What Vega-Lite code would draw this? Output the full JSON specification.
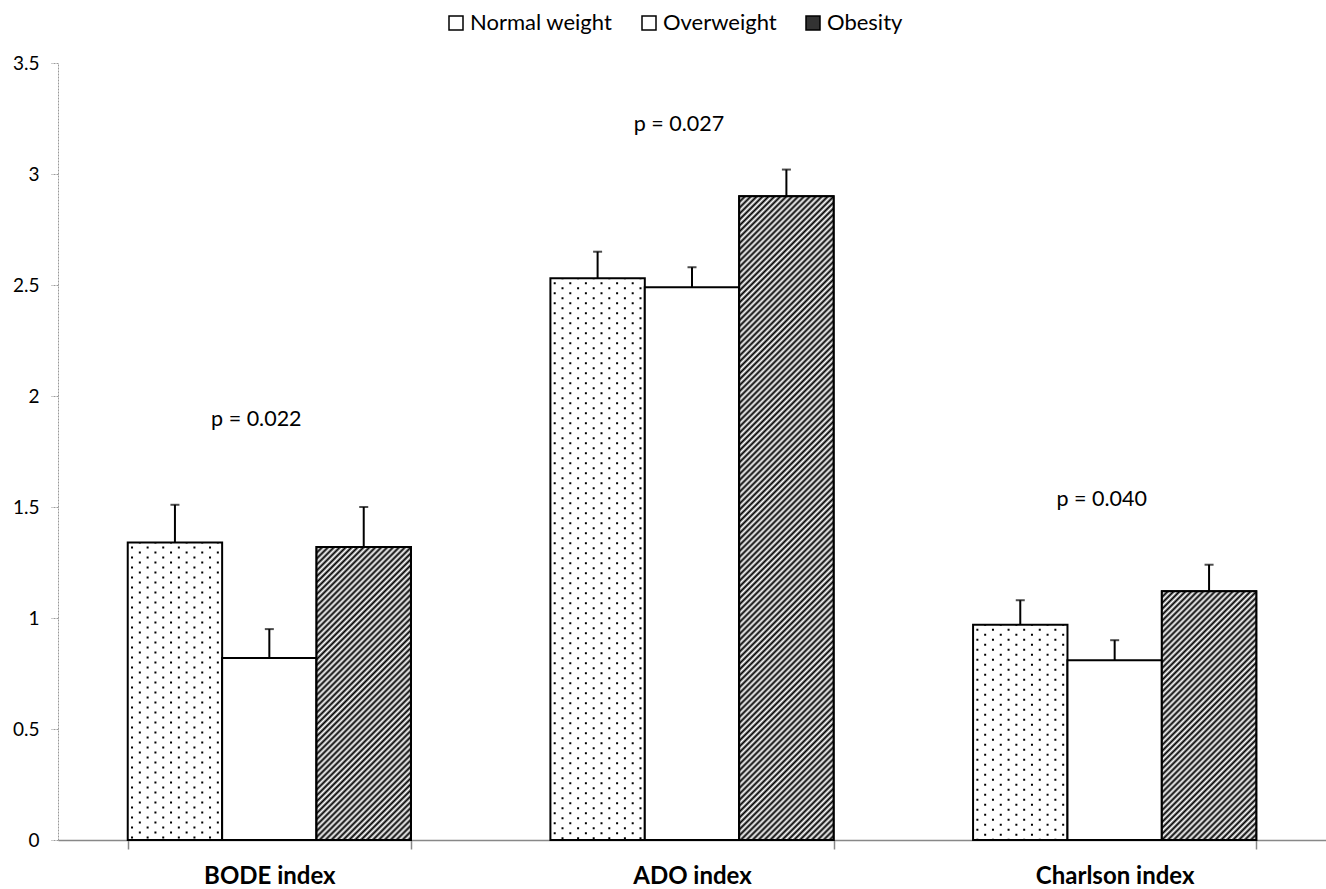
{
"$schema":"https://vega.github.io/schema/vega-lite/v6.json",
"width":1268,"height":777,
"autosize":{"type":"none"},
"padding":{"left":58,"top":63,"right":0,"bottom":49},
"background":"white",
"config":{"font":"Lato","view":{"stroke":null}},
"datasets":{
"bars":[
{"group":"BODE index","cat":"Normal weight","value":1.34,"upper":1.51},
{"group":"BODE index","cat":"Overweight","value":0.82,"upper":0.95},
{"group":"BODE index","cat":"Obesity","value":1.32,"upper":1.50},
{"group":"ADO index","cat":"Normal weight","value":2.53,"upper":2.65},
{"group":"ADO index","cat":"Overweight","value":2.49,"upper":2.58},
{"group":"ADO index","cat":"Obesity","value":2.90,"upper":3.02},
{"group":"Charlson index","cat":"Normal weight","value":0.97,"upper":1.08},
{"group":"Charlson index","cat":"Overweight","value":0.81,"upper":0.90},
{"group":"Charlson index","cat":"Obesity","value":1.12,"upper":1.24}
],
"plabels":[
{"group":"BODE index","label":"p = 0.022","ypos":1.89},
{"group":"ADO index","label":"p = 0.027","ypos":3.22},
{"group":"Charlson index","label":"p = 0.040","ypos":1.53}
]
},
"data":{"name":"bars"},
"encoding":{
"x":{"field":"group","type":"nominal","sort":null,
 "scale":{"domain":["BODE index","ADO index","Charlson index"],"paddingInner":0.33,"paddingOuter":0.165},
 "axis":{"title":null,"labelAngle":0,"labelFontSize":24,"labelFontWeight":"bold","labelColor":"#000","labelPadding":15,"tickBand":"extent","tickSize":9,"tickColor":"#888","tickWidth":1.5,"domainColor":"#888","domainWidth":1.5,"grid":false}},
"y":{"field":"value","type":"quantitative","stack":null,
 "scale":{"domain":[0,3.5],"nice":false,"zero":true},
 "axis":{"title":null,"values":[0,0.5,1,1.5,2,2.5,3,3.5],"format":"~g","labelFontSize":19,"labelColor":"#000","tickSize":7,"tickColor":"#999","tickDash":[2,1],"domainColor":"#999","domainDash":[2,1],"labelPadding":12,"grid":false}}
},
"layer":[
{"mark":{"type":"bar","stroke":"#000","strokeWidth":2},
 "encoding":{
  "xOffset":{"field":"cat","type":"nominal","scale":{"domain":["Normal weight","Overweight","Obesity"]}},
  "fill":{"field":"cat","type":"nominal","scale":{"domain":["Normal weight","Overweight","Obesity"],"range":["#ffffff","#ffffff","#333333"]},
   "legend":{"orient":"none","legendX":387,"legendY":-51,"direction":"horizontal","title":null,"symbolType":"square","symbolSize":196,"symbolStrokeColor":"#000","symbolStrokeWidth":1.5,"labelFontSize":22,"labelColor":"#000","labelOffset":3,"columnPadding":25,"padding":0}}
 }},
{"transform":[{"filter":"datum.cat == 'Obesity' && datum.group == 'BODE index'"}],
 "mark":{"type":"bar","stroke":"#000","strokeWidth":2,"fill":{"gradient":"linear","x1":0,"y1":0,"x2":0.73701,"y2":2.28786,"stops":[
{"offset":0,"color":"#000"},{"offset":0.004,"color":"#fff"},{"offset":0.008,"color":"#000"},{"offset":0.012,"color":"#fff"},{"offset":0.016,"color":"#000"},{"offset":0.02,"color":"#fff"},{"offset":0.024,"color":"#000"},{"offset":0.028,"color":"#fff"},{"offset":0.032,"color":"#000"},{"offset":0.036,"color":"#fff"},{"offset":0.04,"color":"#000"},{"offset":0.044,"color":"#fff"},{"offset":0.048,"color":"#000"},{"offset":0.052,"color":"#fff"},{"offset":0.056,"color":"#000"},{"offset":0.06,"color":"#fff"},{"offset":0.064,"color":"#000"},{"offset":0.068,"color":"#fff"},{"offset":0.072,"color":"#000"},{"offset":0.076,"color":"#fff"},{"offset":0.08,"color":"#000"},{"offset":0.084,"color":"#fff"},{"offset":0.088,"color":"#000"},{"offset":0.092,"color":"#fff"},{"offset":0.096,"color":"#000"},{"offset":0.1,"color":"#fff"},{"offset":0.104,"color":"#000"},{"offset":0.108,"color":"#fff"},{"offset":0.112,"color":"#000"},{"offset":0.116,"color":"#fff"},{"offset":0.12,"color":"#000"},{"offset":0.124,"color":"#fff"},{"offset":0.128,"color":"#000"},{"offset":0.132,"color":"#fff"},{"offset":0.136,"color":"#000"},{"offset":0.14,"color":"#fff"},{"offset":0.144,"color":"#000"},{"offset":0.148,"color":"#fff"},{"offset":0.152,"color":"#000"},{"offset":0.156,"color":"#fff"},{"offset":0.16,"color":"#000"},{"offset":0.164,"color":"#fff"},{"offset":0.168,"color":"#000"},{"offset":0.172,"color":"#fff"},{"offset":0.176,"color":"#000"},{"offset":0.18,"color":"#fff"},{"offset":0.184,"color":"#000"},{"offset":0.188,"color":"#fff"},{"offset":0.192,"color":"#000"},{"offset":0.196,"color":"#fff"},
{"offset":0.2,"color":"#000"},{"offset":0.204,"color":"#fff"},{"offset":0.208,"color":"#000"},{"offset":0.212,"color":"#fff"},{"offset":0.216,"color":"#000"},{"offset":0.22,"color":"#fff"},{"offset":0.224,"color":"#000"},{"offset":0.228,"color":"#fff"},{"offset":0.232,"color":"#000"},{"offset":0.236,"color":"#fff"},{"offset":0.24,"color":"#000"},{"offset":0.244,"color":"#fff"},{"offset":0.248,"color":"#000"},{"offset":0.252,"color":"#fff"},{"offset":0.256,"color":"#000"},{"offset":0.26,"color":"#fff"},{"offset":0.264,"color":"#000"},{"offset":0.268,"color":"#fff"},{"offset":0.272,"color":"#000"},{"offset":0.276,"color":"#fff"},{"offset":0.28,"color":"#000"},{"offset":0.284,"color":"#fff"},{"offset":0.288,"color":"#000"},{"offset":0.292,"color":"#fff"},{"offset":0.296,"color":"#000"},{"offset":0.3,"color":"#fff"},{"offset":0.304,"color":"#000"},{"offset":0.308,"color":"#fff"},{"offset":0.312,"color":"#000"},{"offset":0.316,"color":"#fff"},{"offset":0.32,"color":"#000"},{"offset":0.324,"color":"#fff"},{"offset":0.328,"color":"#000"},{"offset":0.332,"color":"#fff"},{"offset":0.336,"color":"#000"},{"offset":0.34,"color":"#fff"},{"offset":0.344,"color":"#000"},{"offset":0.348,"color":"#fff"},{"offset":0.352,"color":"#000"},{"offset":0.356,"color":"#fff"},{"offset":0.36,"color":"#000"},{"offset":0.364,"color":"#fff"},{"offset":0.368,"color":"#000"},{"offset":0.372,"color":"#fff"},{"offset":0.376,"color":"#000"},{"offset":0.38,"color":"#fff"},{"offset":0.384,"color":"#000"},{"offset":0.388,"color":"#fff"},{"offset":0.392,"color":"#000"},{"offset":0.396,"color":"#fff"},
{"offset":0.4,"color":"#000"},{"offset":0.404,"color":"#fff"},{"offset":0.408,"color":"#000"},{"offset":0.412,"color":"#fff"},{"offset":0.416,"color":"#000"},{"offset":0.42,"color":"#fff"},{"offset":0.424,"color":"#000"},{"offset":0.428,"color":"#fff"},{"offset":0.432,"color":"#000"},{"offset":0.436,"color":"#fff"},{"offset":0.44,"color":"#000"},{"offset":0.444,"color":"#fff"},{"offset":0.448,"color":"#000"},{"offset":0.452,"color":"#fff"},{"offset":0.456,"color":"#000"},{"offset":0.46,"color":"#fff"},{"offset":0.464,"color":"#000"},{"offset":0.468,"color":"#fff"},{"offset":0.472,"color":"#000"},{"offset":0.476,"color":"#fff"},{"offset":0.48,"color":"#000"},{"offset":0.484,"color":"#fff"},{"offset":0.488,"color":"#000"},{"offset":0.492,"color":"#fff"},{"offset":0.496,"color":"#000"},{"offset":0.5,"color":"#fff"},{"offset":0.504,"color":"#000"},{"offset":0.508,"color":"#fff"},{"offset":0.512,"color":"#000"},{"offset":0.516,"color":"#fff"},{"offset":0.52,"color":"#000"},{"offset":0.524,"color":"#fff"},{"offset":0.528,"color":"#000"},{"offset":0.532,"color":"#fff"}
]}},
 "encoding":{"xOffset":{"field":"cat","type":"nominal","scale":{"domain":["Normal weight","Overweight","Obesity"]}}}},
{"transform":[{"filter":"datum.cat == 'Obesity' && datum.group == 'ADO index'"}],
 "mark":{"type":"bar","stroke":"#000","strokeWidth":2,"fill":{"gradient":"linear","x1":0,"y1":0,"x2":0.16499,"y2":1.12522,"stops":[
{"offset":0,"color":"#000"},{"offset":0.004,"color":"#fff"},{"offset":0.008,"color":"#000"},{"offset":0.012,"color":"#fff"},{"offset":0.016,"color":"#000"},{"offset":0.02,"color":"#fff"},{"offset":0.024,"color":"#000"},{"offset":0.028,"color":"#fff"},{"offset":0.032,"color":"#000"},{"offset":0.036,"color":"#fff"},{"offset":0.04,"color":"#000"},{"offset":0.044,"color":"#fff"},{"offset":0.048,"color":"#000"},{"offset":0.052,"color":"#fff"},{"offset":0.056,"color":"#000"},{"offset":0.06,"color":"#fff"},{"offset":0.064,"color":"#000"},{"offset":0.068,"color":"#fff"},{"offset":0.072,"color":"#000"},{"offset":0.076,"color":"#fff"},{"offset":0.08,"color":"#000"},{"offset":0.084,"color":"#fff"},{"offset":0.088,"color":"#000"},{"offset":0.092,"color":"#fff"},{"offset":0.096,"color":"#000"},{"offset":0.1,"color":"#fff"},{"offset":0.104,"color":"#000"},{"offset":0.108,"color":"#fff"},{"offset":0.112,"color":"#000"},{"offset":0.116,"color":"#fff"},{"offset":0.12,"color":"#000"},{"offset":0.124,"color":"#fff"},{"offset":0.128,"color":"#000"},{"offset":0.132,"color":"#fff"},{"offset":0.136,"color":"#000"},{"offset":0.14,"color":"#fff"},{"offset":0.144,"color":"#000"},{"offset":0.148,"color":"#fff"},{"offset":0.152,"color":"#000"},{"offset":0.156,"color":"#fff"},{"offset":0.16,"color":"#000"},{"offset":0.164,"color":"#fff"},{"offset":0.168,"color":"#000"},{"offset":0.172,"color":"#fff"},{"offset":0.176,"color":"#000"},{"offset":0.18,"color":"#fff"},{"offset":0.184,"color":"#000"},{"offset":0.188,"color":"#fff"},{"offset":0.192,"color":"#000"},{"offset":0.196,"color":"#fff"},
{"offset":0.2,"color":"#000"},{"offset":0.204,"color":"#fff"},{"offset":0.208,"color":"#000"},{"offset":0.212,"color":"#fff"},{"offset":0.216,"color":"#000"},{"offset":0.22,"color":"#fff"},{"offset":0.224,"color":"#000"},{"offset":0.228,"color":"#fff"},{"offset":0.232,"color":"#000"},{"offset":0.236,"color":"#fff"},{"offset":0.24,"color":"#000"},{"offset":0.244,"color":"#fff"},{"offset":0.248,"color":"#000"},{"offset":0.252,"color":"#fff"},{"offset":0.256,"color":"#000"},{"offset":0.26,"color":"#fff"},{"offset":0.264,"color":"#000"},{"offset":0.268,"color":"#fff"},{"offset":0.272,"color":"#000"},{"offset":0.276,"color":"#fff"},{"offset":0.28,"color":"#000"},{"offset":0.284,"color":"#fff"},{"offset":0.288,"color":"#000"},{"offset":0.292,"color":"#fff"},{"offset":0.296,"color":"#000"},{"offset":0.3,"color":"#fff"},{"offset":0.304,"color":"#000"},{"offset":0.308,"color":"#fff"},{"offset":0.312,"color":"#000"},{"offset":0.316,"color":"#fff"},{"offset":0.32,"color":"#000"},{"offset":0.324,"color":"#fff"},{"offset":0.328,"color":"#000"},{"offset":0.332,"color":"#fff"},{"offset":0.336,"color":"#000"},{"offset":0.34,"color":"#fff"},{"offset":0.344,"color":"#000"},{"offset":0.348,"color":"#fff"},{"offset":0.352,"color":"#000"},{"offset":0.356,"color":"#fff"},{"offset":0.36,"color":"#000"},{"offset":0.364,"color":"#fff"},{"offset":0.368,"color":"#000"},{"offset":0.372,"color":"#fff"},{"offset":0.376,"color":"#000"},{"offset":0.38,"color":"#fff"},{"offset":0.384,"color":"#000"},{"offset":0.388,"color":"#fff"},{"offset":0.392,"color":"#000"},{"offset":0.396,"color":"#fff"},
{"offset":0.4,"color":"#000"},{"offset":0.404,"color":"#fff"},{"offset":0.408,"color":"#000"},{"offset":0.412,"color":"#fff"},{"offset":0.416,"color":"#000"},{"offset":0.42,"color":"#fff"},{"offset":0.424,"color":"#000"},{"offset":0.428,"color":"#fff"},{"offset":0.432,"color":"#000"},{"offset":0.436,"color":"#fff"},{"offset":0.44,"color":"#000"},{"offset":0.444,"color":"#fff"},{"offset":0.448,"color":"#000"},{"offset":0.452,"color":"#fff"},{"offset":0.456,"color":"#000"},{"offset":0.46,"color":"#fff"},{"offset":0.464,"color":"#000"},{"offset":0.468,"color":"#fff"},{"offset":0.472,"color":"#000"},{"offset":0.476,"color":"#fff"},{"offset":0.48,"color":"#000"},{"offset":0.484,"color":"#fff"},{"offset":0.488,"color":"#000"},{"offset":0.492,"color":"#fff"},{"offset":0.496,"color":"#000"},{"offset":0.5,"color":"#fff"},{"offset":0.504,"color":"#000"},{"offset":0.508,"color":"#fff"},{"offset":0.512,"color":"#000"},{"offset":0.516,"color":"#fff"},{"offset":0.52,"color":"#000"},{"offset":0.524,"color":"#fff"},{"offset":0.528,"color":"#000"},{"offset":0.532,"color":"#fff"},{"offset":0.536,"color":"#000"},{"offset":0.54,"color":"#fff"},{"offset":0.544,"color":"#000"},{"offset":0.548,"color":"#fff"},{"offset":0.552,"color":"#000"},{"offset":0.556,"color":"#fff"},{"offset":0.56,"color":"#000"},{"offset":0.564,"color":"#fff"},{"offset":0.568,"color":"#000"},{"offset":0.572,"color":"#fff"},{"offset":0.576,"color":"#000"},{"offset":0.58,"color":"#fff"},{"offset":0.584,"color":"#000"},{"offset":0.588,"color":"#fff"},{"offset":0.592,"color":"#000"},{"offset":0.596,"color":"#fff"},
{"offset":0.6,"color":"#000"},{"offset":0.604,"color":"#fff"},{"offset":0.608,"color":"#000"},{"offset":0.612,"color":"#fff"},{"offset":0.616,"color":"#000"},{"offset":0.62,"color":"#fff"},{"offset":0.624,"color":"#000"},{"offset":0.628,"color":"#fff"},{"offset":0.632,"color":"#000"},{"offset":0.636,"color":"#fff"},{"offset":0.64,"color":"#000"},{"offset":0.644,"color":"#fff"},{"offset":0.648,"color":"#000"},{"offset":0.652,"color":"#fff"},{"offset":0.656,"color":"#000"},{"offset":0.66,"color":"#fff"},{"offset":0.664,"color":"#000"},{"offset":0.668,"color":"#fff"},{"offset":0.672,"color":"#000"},{"offset":0.676,"color":"#fff"},{"offset":0.68,"color":"#000"},{"offset":0.684,"color":"#fff"},{"offset":0.688,"color":"#000"},{"offset":0.692,"color":"#fff"},{"offset":0.696,"color":"#000"},{"offset":0.7,"color":"#fff"},{"offset":0.704,"color":"#000"},{"offset":0.708,"color":"#fff"},{"offset":0.712,"color":"#000"},{"offset":0.716,"color":"#fff"},{"offset":0.72,"color":"#000"},{"offset":0.724,"color":"#fff"},{"offset":0.728,"color":"#000"},{"offset":0.732,"color":"#fff"},{"offset":0.736,"color":"#000"},{"offset":0.74,"color":"#fff"},{"offset":0.744,"color":"#000"},{"offset":0.748,"color":"#fff"},{"offset":0.752,"color":"#000"},{"offset":0.756,"color":"#fff"},{"offset":0.76,"color":"#000"},{"offset":0.764,"color":"#fff"},{"offset":0.768,"color":"#000"},{"offset":0.772,"color":"#fff"},{"offset":0.776,"color":"#000"},{"offset":0.78,"color":"#fff"},{"offset":0.784,"color":"#000"},{"offset":0.788,"color":"#fff"},{"offset":0.792,"color":"#000"},{"offset":0.796,"color":"#fff"},
{"offset":0.8,"color":"#000"},{"offset":0.804,"color":"#fff"},{"offset":0.808,"color":"#000"},{"offset":0.812,"color":"#fff"},{"offset":0.816,"color":"#000"},{"offset":0.82,"color":"#fff"},{"offset":0.824,"color":"#000"},{"offset":0.828,"color":"#fff"},{"offset":0.832,"color":"#000"},{"offset":0.836,"color":"#fff"},{"offset":0.84,"color":"#000"},{"offset":0.844,"color":"#fff"},{"offset":0.848,"color":"#000"},{"offset":0.852,"color":"#fff"},{"offset":0.856,"color":"#000"},{"offset":0.86,"color":"#fff"},{"offset":0.864,"color":"#000"},{"offset":0.868,"color":"#fff"},{"offset":0.872,"color":"#000"},{"offset":0.876,"color":"#fff"},{"offset":0.88,"color":"#000"},{"offset":0.884,"color":"#fff"},{"offset":0.888,"color":"#000"},{"offset":0.892,"color":"#fff"},{"offset":0.896,"color":"#000"},{"offset":0.9,"color":"#fff"},{"offset":0.904,"color":"#000"},{"offset":0.908,"color":"#fff"},{"offset":0.912,"color":"#000"},{"offset":0.916,"color":"#fff"},{"offset":0.92,"color":"#000"},{"offset":0.924,"color":"#fff"},{"offset":0.928,"color":"#000"},{"offset":0.932,"color":"#fff"},{"offset":0.936,"color":"#000"},{"offset":0.94,"color":"#fff"},{"offset":0.944,"color":"#000"},{"offset":0.948,"color":"#fff"},{"offset":0.952,"color":"#000"},{"offset":0.956,"color":"#fff"},{"offset":0.96,"color":"#000"},{"offset":0.964,"color":"#fff"},{"offset":0.968,"color":"#000"},{"offset":0.972,"color":"#fff"},{"offset":0.976,"color":"#000"},{"offset":0.98,"color":"#fff"},{"offset":0.984,"color":"#000"},{"offset":0.988,"color":"#fff"},{"offset":0.992,"color":"#000"},{"offset":0.996,"color":"#fff"},{"offset":1,"color":"#000"}
]}},
 "encoding":{"xOffset":{"field":"cat","type":"nominal","scale":{"domain":["Normal weight","Overweight","Obesity"]}}}},
{"transform":[{"filter":"datum.cat == 'Obesity' && datum.group == 'Charlson index'"}],
 "mark":{"type":"bar","stroke":"#000","strokeWidth":2,"fill":{"gradient":"linear","x1":0,"y1":0,"x2":0.9876,"y2":2.60124,"stops":[
{"offset":0,"color":"#000"},{"offset":0.004,"color":"#fff"},{"offset":0.008,"color":"#000"},{"offset":0.012,"color":"#fff"},{"offset":0.016,"color":"#000"},{"offset":0.02,"color":"#fff"},{"offset":0.024,"color":"#000"},{"offset":0.028,"color":"#fff"},{"offset":0.032,"color":"#000"},{"offset":0.036,"color":"#fff"},{"offset":0.04,"color":"#000"},{"offset":0.044,"color":"#fff"},{"offset":0.048,"color":"#000"},{"offset":0.052,"color":"#fff"},{"offset":0.056,"color":"#000"},{"offset":0.06,"color":"#fff"},{"offset":0.064,"color":"#000"},{"offset":0.068,"color":"#fff"},{"offset":0.072,"color":"#000"},{"offset":0.076,"color":"#fff"},{"offset":0.08,"color":"#000"},{"offset":0.084,"color":"#fff"},{"offset":0.088,"color":"#000"},{"offset":0.092,"color":"#fff"},{"offset":0.096,"color":"#000"},{"offset":0.1,"color":"#fff"},{"offset":0.104,"color":"#000"},{"offset":0.108,"color":"#fff"},{"offset":0.112,"color":"#000"},{"offset":0.116,"color":"#fff"},{"offset":0.12,"color":"#000"},{"offset":0.124,"color":"#fff"},{"offset":0.128,"color":"#000"},{"offset":0.132,"color":"#fff"},{"offset":0.136,"color":"#000"},{"offset":0.14,"color":"#fff"},{"offset":0.144,"color":"#000"},{"offset":0.148,"color":"#fff"},{"offset":0.152,"color":"#000"},{"offset":0.156,"color":"#fff"},{"offset":0.16,"color":"#000"},{"offset":0.164,"color":"#fff"},{"offset":0.168,"color":"#000"},{"offset":0.172,"color":"#fff"},{"offset":0.176,"color":"#000"},{"offset":0.18,"color":"#fff"},{"offset":0.184,"color":"#000"},{"offset":0.188,"color":"#fff"},{"offset":0.192,"color":"#000"},{"offset":0.196,"color":"#fff"},
{"offset":0.2,"color":"#000"},{"offset":0.204,"color":"#fff"},{"offset":0.208,"color":"#000"},{"offset":0.212,"color":"#fff"},{"offset":0.216,"color":"#000"},{"offset":0.22,"color":"#fff"},{"offset":0.224,"color":"#000"},{"offset":0.228,"color":"#fff"},{"offset":0.232,"color":"#000"},{"offset":0.236,"color":"#fff"},{"offset":0.24,"color":"#000"},{"offset":0.244,"color":"#fff"},{"offset":0.248,"color":"#000"},{"offset":0.252,"color":"#fff"},{"offset":0.256,"color":"#000"},{"offset":0.26,"color":"#fff"},{"offset":0.264,"color":"#000"},{"offset":0.268,"color":"#fff"},{"offset":0.272,"color":"#000"},{"offset":0.276,"color":"#fff"},{"offset":0.28,"color":"#000"},{"offset":0.284,"color":"#fff"},{"offset":0.288,"color":"#000"},{"offset":0.292,"color":"#fff"},{"offset":0.296,"color":"#000"},{"offset":0.3,"color":"#fff"},{"offset":0.304,"color":"#000"},{"offset":0.308,"color":"#fff"},{"offset":0.312,"color":"#000"},{"offset":0.316,"color":"#fff"},{"offset":0.32,"color":"#000"},{"offset":0.324,"color":"#fff"},{"offset":0.328,"color":"#000"},{"offset":0.332,"color":"#fff"},{"offset":0.336,"color":"#000"},{"offset":0.34,"color":"#fff"},{"offset":0.344,"color":"#000"},{"offset":0.348,"color":"#fff"},{"offset":0.352,"color":"#000"},{"offset":0.356,"color":"#fff"},{"offset":0.36,"color":"#000"},{"offset":0.364,"color":"#fff"},{"offset":0.368,"color":"#000"},{"offset":0.372,"color":"#fff"},{"offset":0.376,"color":"#000"},{"offset":0.38,"color":"#fff"},{"offset":0.384,"color":"#000"},{"offset":0.388,"color":"#fff"},{"offset":0.392,"color":"#000"},{"offset":0.396,"color":"#fff"},
{"offset":0.4,"color":"#000"},{"offset":0.404,"color":"#fff"},{"offset":0.408,"color":"#000"},{"offset":0.412,"color":"#fff"},{"offset":0.416,"color":"#000"},{"offset":0.42,"color":"#fff"},{"offset":0.424,"color":"#000"},{"offset":0.428,"color":"#fff"},{"offset":0.432,"color":"#000"},{"offset":0.436,"color":"#fff"},{"offset":0.44,"color":"#000"},{"offset":0.444,"color":"#fff"},{"offset":0.448,"color":"#000"},{"offset":0.452,"color":"#fff"},{"offset":0.456,"color":"#000"},{"offset":0.46,"color":"#fff"},{"offset":0.464,"color":"#000"},{"offset":0.468,"color":"#fff"}
]}},
 "encoding":{"xOffset":{"field":"cat","type":"nominal","scale":{"domain":["Normal weight","Overweight","Obesity"]}}}},
{"transform":[{"filter":"datum.cat == 'Normal weight'"}],
 "encoding":{"y2":{"datum":0}},
 "layer":[
  {"mark":{"type":"rule","xOffset":-137.3,"strokeDash":[2,8],"strokeDashOffset":-4,"strokeWidth":2,"color":"#000"}},
  {"mark":{"type":"rule","xOffset":-129.5,"strokeDash":[2,8],"strokeDashOffset":-9,"strokeWidth":2,"color":"#000"}},
  {"mark":{"type":"rule","xOffset":-121.7,"strokeDash":[2,8],"strokeDashOffset":-4,"strokeWidth":2,"color":"#000"}},
  {"mark":{"type":"rule","xOffset":-113.9,"strokeDash":[2,8],"strokeDashOffset":-9,"strokeWidth":2,"color":"#000"}},
  {"mark":{"type":"rule","xOffset":-106.1,"strokeDash":[2,8],"strokeDashOffset":-4,"strokeWidth":2,"color":"#000"}},
  {"mark":{"type":"rule","xOffset":-98.3,"strokeDash":[2,8],"strokeDashOffset":-9,"strokeWidth":2,"color":"#000"}},
  {"mark":{"type":"rule","xOffset":-90.5,"strokeDash":[2,8],"strokeDashOffset":-4,"strokeWidth":2,"color":"#000"}},
  {"mark":{"type":"rule","xOffset":-82.7,"strokeDash":[2,8],"strokeDashOffset":-9,"strokeWidth":2,"color":"#000"}},
  {"mark":{"type":"rule","xOffset":-74.9,"strokeDash":[2,8],"strokeDashOffset":-4,"strokeWidth":2,"color":"#000"}},
  {"mark":{"type":"rule","xOffset":-67.1,"strokeDash":[2,8],"strokeDashOffset":-9,"strokeWidth":2,"color":"#000"}},
  {"mark":{"type":"rule","xOffset":-59.3,"strokeDash":[2,8],"strokeDashOffset":-4,"strokeWidth":2,"color":"#000"}},
  {"mark":{"type":"rule","xOffset":-51.5,"strokeDash":[2,8],"strokeDashOffset":-9,"strokeWidth":2,"color":"#000"}}
 ]},
{"mark":{"type":"rule","strokeWidth":2,"color":"#000"},
 "encoding":{"xOffset":{"field":"cat","type":"nominal","scale":{"domain":["Normal weight","Overweight","Obesity"]}},"y2":{"field":"upper"}}},
{"mark":{"type":"tick","size":9,"thickness":2,"color":"#000"},
 "encoding":{"xOffset":{"field":"cat","type":"nominal","scale":{"domain":["Normal weight","Overweight","Obesity"]}},
  "y":{"field":"upper","type":"quantitative","stack":null,"scale":{"domain":[0,3.5],"nice":false,"zero":true},
   "axis":{"title":null,"values":[0,0.5,1,1.5,2,2.5,3,3.5],"format":"~g","labelFontSize":19,"labelColor":"#000","tickSize":7,"tickColor":"#999","tickDash":[2,1],"domainColor":"#999","domainDash":[2,1],"labelPadding":12,"grid":false}}}},
{"data":{"name":"plabels"},
 "mark":{"type":"text","fontSize":21.5,"xOffset":-13,"color":"#000","baseline":"middle"},
 "encoding":{"text":{"field":"label"},
  "y":{"field":"ypos","type":"quantitative","stack":null,"scale":{"domain":[0,3.5],"nice":false,"zero":true},
   "axis":{"title":null,"values":[0,0.5,1,1.5,2,2.5,3,3.5],"format":"~g","labelFontSize":19,"labelColor":"#000","tickSize":7,"tickColor":"#999","tickDash":[2,1],"domainColor":"#999","domainDash":[2,1],"labelPadding":12,"grid":false}}}}
]
}
